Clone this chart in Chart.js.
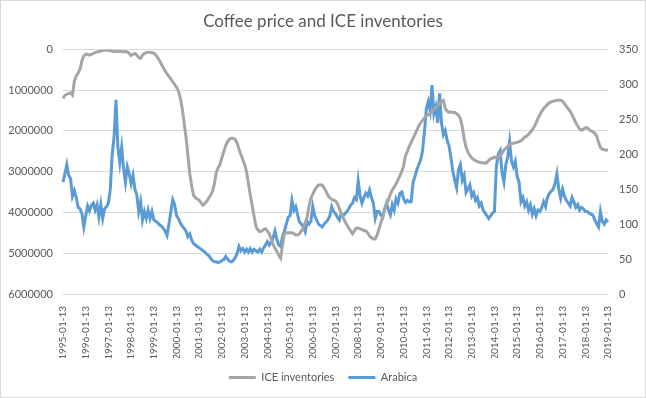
<!DOCTYPE html>
<html>
<head>
<meta charset="utf-8">
<script src="https://cdn.jsdelivr.net/npm/chart.js@4/dist/chart.umd.min.js"></script>
<style>
  html, body { margin: 0; padding: 0; background: #fff; }
  #c { display: block; }
</style>
</head>
<body>
<canvas id="c" width="646" height="398"></canvas>
<script>
// Coffee price (right axis) vs ICE certified inventories (left axis, reversed).
// Monthly points, 1995-01 .. 2019-01.

const START_YEAR = 1995;
const END_YEAR = 2019;

// category labels, one per month; only January ones are shown as ticks
const dates = [];
for (let y = START_YEAR; y <= END_YEAR; y++) {
  for (let m = 1; m <= 12; m++) {
    if (y === END_YEAR && m > 1) break;
    dates.push(y + '-' + String(m).padStart(2, '0') + '-13');
  }
}

// ICE inventories, bags
const iceInventories = [
  1200000, 1130000, 1100000, 1080000, 1070000, 1120000, 780000, 650000, 580000, 480000, 280000, 160000,
  120000, 120000, 140000, 120000, 100000, 80000, 60000, 50000, 40000, 30000, 20000, 20000,
  20000, 30000, 50000, 40000, 50000, 50000, 40000, 50000, 60000, 50000, 60000, 100000,
  150000, 120000, 100000, 140000, 200000, 220000, 140000, 100000, 80000, 70000, 70000, 80000,
  90000, 130000, 200000, 270000, 360000, 450000, 530000, 600000, 660000, 730000, 790000, 860000,
  930000, 1020000, 1200000, 1450000, 1800000, 2150000, 2600000, 3050000, 3350000, 3580000, 3640000, 3670000,
  3700000, 3770000, 3820000, 3780000, 3720000, 3650000, 3580000, 3480000, 3300000, 3020000, 2900000, 2820000,
  2650000, 2500000, 2360000, 2260000, 2200000, 2180000, 2180000, 2210000, 2300000, 2450000, 2580000, 2700000,
  2820000, 3000000, 3300000, 3580000, 3840000, 4100000, 4350000, 4430000, 4470000, 4460000, 4420000, 4400000,
  4450000, 4520000, 4650000, 4780000, 4880000, 4950000, 5050000, 5120000, 4800000, 4520000, 4500000, 4500000,
  4500000, 4500000, 4520000, 4550000, 4550000, 4520000, 4450000, 4380000, 4250000, 4120000, 3850000, 3650000,
  3550000, 3450000, 3380000, 3330000, 3320000, 3330000, 3400000, 3480000, 3580000, 3640000, 3680000, 3700000,
  3720000, 3780000, 3900000, 4020000, 4120000, 4220000, 4300000, 4380000, 4450000, 4520000, 4450000, 4380000,
  4380000, 4400000, 4420000, 4450000, 4450000, 4500000, 4580000, 4620000, 4650000, 4650000, 4550000, 4400000,
  4250000, 4100000, 3930000, 3800000, 3680000, 3550000, 3450000, 3380000, 3300000, 3200000, 3100000, 3000000,
  2850000, 2600000, 2500000, 2380000, 2280000, 2180000, 2080000, 1980000, 1880000, 1800000, 1740000, 1680000,
  1630000, 1600000, 1570000, 1520000, 1470000, 1420000, 1370000, 1330000, 1280000, 1250000, 1450000, 1520000,
  1540000, 1530000, 1550000, 1550000, 1580000, 1620000, 1700000, 1900000, 2200000, 2400000, 2520000, 2600000,
  2660000, 2700000, 2730000, 2750000, 2770000, 2780000, 2780000, 2790000, 2780000, 2720000, 2680000, 2670000,
  2640000, 2670000, 2630000, 2600000, 2550000, 2470000, 2430000, 2380000, 2340000, 2310000, 2300000, 2290000,
  2280000, 2260000, 2240000, 2200000, 2150000, 2130000, 2080000, 2030000, 1970000, 1900000, 1800000, 1690000,
  1600000, 1520000, 1450000, 1400000, 1350000, 1310000, 1290000, 1270000, 1260000, 1250000, 1240000, 1250000,
  1270000, 1330000, 1400000, 1460000, 1520000, 1600000, 1700000, 1800000, 1880000, 1950000, 1980000, 1950000,
  1920000, 1920000, 1970000, 2000000, 2020000, 2060000, 2120000, 2280000, 2400000, 2450000, 2460000, 2470000,
  2470000,
];

// Arabica price, US cents/lb
const arabica = [
  160, 172, 185, 170, 165, 140, 148, 138, 124, 122, 115, 96,
  112, 126, 119, 127, 130, 120, 128, 110, 128, 108, 122, 125,
  130, 150, 200, 225, 278, 210, 188, 210, 180, 160, 182, 172,
  158, 170, 150, 142, 118, 132, 106, 118, 108, 120, 108, 118,
  106, 104, 102, 99, 97, 94, 90, 84, 100, 118, 135, 128,
  112, 108, 102, 97, 94, 90, 82, 86, 77, 72, 70, 68,
  66, 64, 62, 60, 57, 55, 51, 48, 46, 46, 45, 46,
  48, 49, 54, 50, 47, 46, 48, 52, 58, 68, 62, 65,
  60, 64, 60, 65, 60, 64, 62, 60, 64, 60, 66, 70,
  75, 70, 74, 80, 90, 78, 70, 68, 82, 90, 100, 110,
  112, 134, 120, 125, 113, 103, 100, 96, 89, 104, 100, 104,
  125, 112, 106, 100, 98, 96, 100, 103, 106, 112, 125, 118,
  115, 110, 106, 115, 112, 115, 118, 122, 127, 130, 138, 135,
  162, 140, 130, 138, 144, 140, 149, 138, 130, 108, 118, 118,
  113, 110, 122, 130, 120, 113, 128, 120, 136, 130, 144, 146,
  136, 131, 134, 132, 132, 160, 168, 178, 185, 192, 205, 232,
  265, 275, 262, 299, 258, 268, 245, 287, 245, 228, 234, 220,
  212, 195, 176, 163, 152, 178, 185, 163, 170, 145, 150, 156,
  140, 145, 134, 138, 126, 130, 120, 116, 112, 108, 112, 116,
  118, 182, 200, 205, 173, 160, 185, 196, 218, 190, 182, 190,
  168, 160, 132, 138, 126, 132, 120, 128, 114, 122, 112, 120,
  118, 124, 132, 125, 138, 144, 147, 150, 158, 172, 150, 137,
  150, 140, 134, 130, 126, 138, 132, 124, 128, 120, 124, 122,
  118, 118, 116, 114, 113, 106, 101, 96, 118, 104, 100, 106,
  103,
];

const LEFT_TICKS = [0, 1000000, 2000000, 3000000, 4000000, 5000000, 6000000];
const RIGHT_TICKS = [0, 50, 100, 150, 200, 250, 300, 350];

const INK = '#595959';
const GRID = '#d9d9d9';
const FONT = 'Lato, "Open Sans", sans-serif';

// thin frame like the spreadsheet chart area
const frame = {
  id: 'frame',
  afterDraw(chart) {
    const ctx = chart.ctx;
    ctx.save();
    ctx.strokeStyle = GRID;
    ctx.lineWidth = 1;
    ctx.strokeRect(0.5, 0.5, chart.width - 1, chart.height - 1);
    ctx.restore();
  },
};

new Chart(document.getElementById('c'), {
  type: 'line',
  data: {
    labels: dates,
    datasets: [
      {
        label: 'ICE inventories',
        data: iceInventories,
        yAxisID: 'yInv',
        borderColor: '#a5a5a5',
        backgroundColor: '#a5a5a5',
        borderWidth: 3,
        pointRadius: 0,
        tension: 0,
      },
      {
        label: 'Arabica',
        data: arabica,
        yAxisID: 'yPrice',
        borderColor: '#5b9bd5',
        backgroundColor: '#5b9bd5',
        borderWidth: 3,
        pointRadius: 0,
        tension: 0,
      },
    ],
  },
  options: {
    responsive: false,
    animation: false,
    layout: { padding: { top: 1, right: 0, bottom: 5, left: 0 } },
    plugins: {
      title: {
        display: true,
        text: 'Coffee price and ICE inventories',
        color: INK,
        font: { family: FONT, size: 17, weight: 'normal' },
        padding: { top: 10, bottom: 18 },
      },
      legend: {
        position: 'bottom',
        labels: {
          color: INK,
          font: { family: FONT, size: 11 },
          usePointStyle: true,
          pointStyle: 'line',
          pointStyleWidth: 27,
          boxHeight: 11,
          padding: 14,
        },
      },
      tooltip: { enabled: false },
    },
    scales: {
      x: {
        type: 'category',
        grid: { display: false },
        border: { display: false },
        ticks: {
          autoSkip: false,
          minRotation: 90,
          maxRotation: 90,
          padding: 4,
          color: INK,
          font: { family: FONT, size: 10 },
          callback(v, i) {
            const d = dates[i];
            return d.slice(5, 7) === '01' ? d : '';
          },
        },
        afterFit(s) { s.height = 64; },
      },
      yInv: {
        position: 'left',
        reverse: true,
        min: 0,
        max: 6000000,
        afterBuildTicks(s) { s.ticks = LEFT_TICKS.map(v => ({ value: v })); },
        grid: { color: GRID, drawTicks: false },
        border: { display: false },
        ticks: {
          padding: 10,
          color: INK,
          font: { family: FONT, size: 11 },
          callback: v => String(v),
        },
        afterFit(s) { s.width = 63; },
      },
      yPrice: {
        position: 'right',
        min: 0,
        max: 350,
        afterBuildTicks(s) { s.ticks = RIGHT_TICKS.map(v => ({ value: v })); },
        grid: { drawOnChartArea: false, drawTicks: false },
        border: { display: false },
        ticks: {
          padding: 11,
          color: INK,
          font: { family: FONT, size: 11 },
        },
        afterFit(s) { s.width = 38; },
      },
    },
  },
  plugins: [frame],
});
</script>
</body>
</html>
